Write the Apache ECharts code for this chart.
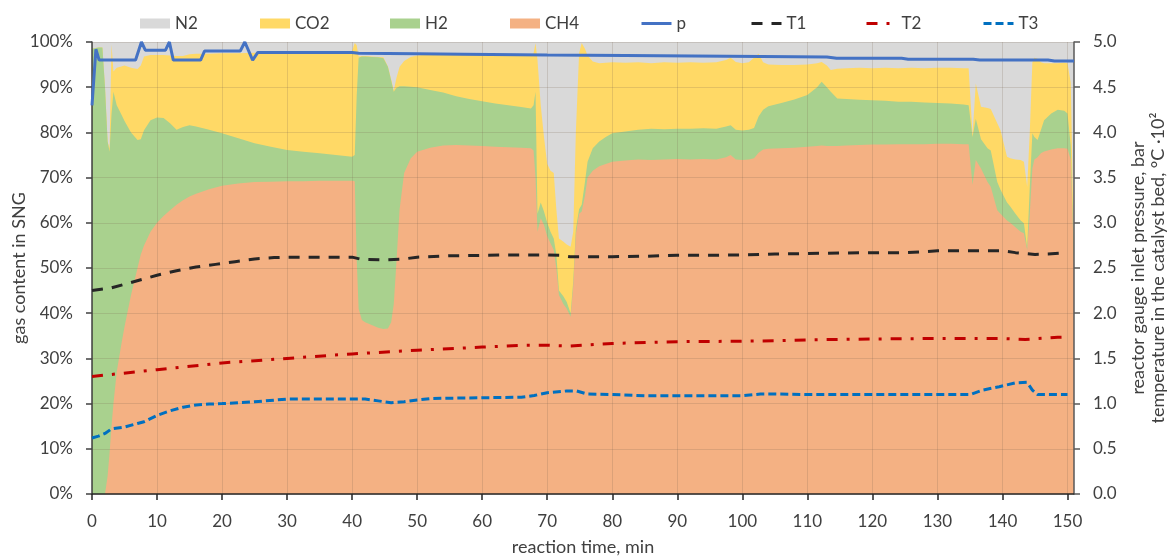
<!DOCTYPE html>
<html>
<head>
<meta charset="utf-8">
<script src="https://cdn.jsdelivr.net/npm/echarts@6/dist/echarts.min.js"></script>
<style>
  html, body { margin: 0; padding: 0; background: #fff; }
  #chart { width: 1170px; height: 556px; }
</style>
</head>
<body>
<div id="chart"></div>
<script>
// Gas composition of the SNG over reaction time (vol. %), one value per gas per time point
const timeMin = [0, 1.0, 1.6, 2.0, 2.4, 2.7, 3.0, 3.3, 3.8, 4.5, 5.0, 6.0, 7.0, 7.5, 8.0, 9.0, 10, 11, 12, 13, 14, 15, 16, 18, 20, 22.5, 25, 27.5, 30, 32.5, 35, 37.5, 40, 40.4, 40.7, 41.0, 41.5, 42, 43, 44, 44.8, 45.5, 46.0, 46.4, 46.8, 47.3, 48, 49, 50, 52, 54, 56, 58, 60, 62, 64, 66, 67.5, 67.9, 68.2, 68.5, 69.0, 69.5, 70.0, 70.5, 71.0, 71.4, 71.8, 72.5, 73.0, 73.6, 74.0, 74.4, 74.9, 75.3, 75.8, 76.2, 77.0, 78.0, 79.0, 80, 82, 84, 86, 88, 90, 92, 94, 96, 97.5, 98.2, 99, 100, 101, 101.8, 102.5, 103.2, 104, 106, 108, 110, 111.5, 112.2, 113, 113.6, 114.6, 116, 118, 120, 122, 124, 126, 128, 130, 132, 134, 134.8, 135.4, 135.9, 136.7, 137.7, 138.2, 139.2, 139.7, 140.7, 141.2, 142, 142.8, 143.3, 143.8, 144.2, 144.6, 144.9, 145.4, 145.9, 146.4, 147.5, 148.5, 149.5, 150, 150.5, 151];
const ch4 = [0, 0, 0, 0, 4, 9, 15, 20, 27, 33, 37, 44, 50, 53, 55, 58, 60, 61.5, 62.8, 64, 65, 65.8, 66.4, 67.4, 68.2, 68.7, 69.0, 69.1, 69.2, 69.2, 69.3, 69.3, 69.3, 69.2, 52, 41, 38.5, 38, 37.4, 36.8, 36.5, 36.6, 38, 42, 51, 63, 71, 74.2, 75.7, 76.6, 77.1, 77.2, 77.1, 77.0, 76.8, 76.7, 76.6, 76.5, 76, 70, 58, 61, 59.5, 57, 55.5, 54, 50, 44, 42, 41, 39.2, 46, 57.5, 62, 62.5, 66, 70, 71.5, 72.5, 73, 73.5, 73.8, 74.0, 73.9, 74.0, 74.1, 74.0, 74.1, 74.0, 74.5, 75.0, 74.0, 73.9, 74.0, 74.3, 75.5, 76.2, 76.4, 76.5, 76.6, 76.8, 77.0, 77.1, 77.0, 77.0, 77.0, 77.1, 77.2, 77.3, 77.3, 77.4, 77.4, 77.4, 77.5, 77.5, 77.4, 77.4, 68.4, 73.9, 72, 69, 68, 62.8, 62, 60.5, 60, 59, 58, 57.7, 54, 62, 72, 74, 74.5, 75.4, 75.8, 76.2, 76.5, 76.5, 76.4, 74, 51];
const h2 = [98.5, 98.8, 98.8, 90, 74, 66.7, 69, 69, 59, 51, 45.5, 36, 28.3, 25.5, 25.5, 24.7, 23.3, 21.7, 19.2, 16.6, 16.2, 15.8, 14.9, 13.2, 11.6, 10.0, 8.6, 7.7, 6.9, 6.5, 6.1, 5.7, 5.3, 5.8, 36, 55.5, 58.3, 58.8, 59.3, 59.8, 59.9, 57.9, 53.5, 47, 38.8, 27.2, 19.2, 15.9, 14.3, 12.8, 11.7, 10.8, 10.3, 9.9, 9.6, 9.3, 9.0, 8.8, 10, 19, 4, 3.5, 3, 3, 2.5, 2.5, 3, 1, 1.7, 1.5, 0.8, 1, 1, 1, 1.5, 3, 3.5, 5, 5.5, 6, 6.3, 6.4, 6.6, 6.9, 6.7, 6.7, 6.8, 6.8, 6.8, 6.8, 6.6, 6.6, 6.5, 6.6, 6.7, 8.0, 8.8, 9.4, 10.0, 10.7, 11.5, 13.0, 14.1, 13.0, 12.0, 10.5, 10.3, 10.0, 9.8, 9.7, 9.4, 9.4, 9.2, 9.0, 8.9, 8.8, 8.6, 10.6, 9.1, 6.5, 7.5, 8, 6.2, 5.3, 4, 3.6, 3, 2.5, 2.2, 0.5, 6, 7.8, 5, 3.8, 5.1, 6.9, 8, 8.5, 8.3, 7.8, 3, 0.5];
const co2 = [0, 0, 0, 0, 0, 0.8, 15.5, 4.5, 8.3, 10.6, 12.3, 14.3, 15.7, 16.3, 16.3, 14.4, 13.8, 13.9, 15.0, 16.3, 15.7, 15.7, 16.1, 16.8, 17.7, 18.8, 20.0, 20.8, 21.6, 22.0, 22.4, 22.9, 23.4, 24.8, 11.3, 0.3, 0.1, 0.1, 0.1, 0.1, 0.2, 0.1, 0.2, 0.2, 2.2, 4.3, 5.6, 6.6, 7.0, 7.9, 8.6, 9.5, 10.1, 10.6, 11.0, 11.3, 11.6, 11.9, 11.5, 10.7, 34, 21.5, 16.5, 13, 13.5, 14.5, 10, 11.5, 12.1, 12.7, 14.7, 11, 21.5, 34.5, 35.8, 29.5, 23.5, 19.2, 17.3, 16.4, 15.7, 15.2, 14.9, 14.5, 14.8, 14.6, 14.7, 14.5, 14.7, 14.7, 14.9, 15.0, 14.9, 14.9, 15.5, 13.9, 10.5, 9.2, 8.4, 7.6, 6.7, 5.3, 4.4, 4.8, 4.8, 6.6, 6.8, 7.1, 7.1, 7.3, 7.4, 7.5, 7.6, 7.8, 7.9, 8.0, 8.2, 0.5, 7.8, 7.2, 8.9, 9.2, 13, 13.2, 10.1, 10.7, 12, 13.4, 13.6, 13.5, 12, 15.7, 17.5, 18, 15, 12.6, 11.1, 10.3, 10.6, 11.1, 14, 0.5];
const n2 = [1.5, 1.2, 1.2, 10, 22, 23.5, 0.5, 6.5, 5.7, 5.4, 5.2, 5.7, 6, 5.2, 3.2, 2.9, 2.9, 2.9, 3.0, 3.1, 3.1, 2.7, 2.6, 2.6, 2.5, 2.5, 2.4, 2.4, 2.3, 2.3, 2.2, 2.1, 2.0, 0.2, 0.7, 3.2, 3.1, 3.1, 3.2, 3.3, 3.4, 5.4, 8.3, 10.8, 8.0, 5.5, 4.2, 3.3, 3.0, 2.7, 2.6, 2.5, 2.5, 2.5, 2.6, 2.7, 2.8, 2.8, 2.5, 0.3, 4, 14, 21, 27, 28.5, 29, 37, 43.5, 44.2, 44.8, 45.3, 42, 20, 2.5, 0.2, 1.5, 3, 4.3, 4.7, 4.6, 4.5, 4.6, 4.5, 4.7, 4.5, 4.6, 4.5, 4.6, 4.5, 4.0, 3.5, 4.4, 4.7, 4.5, 3.5, 2.6, 4.5, 5.0, 5.1, 5.1, 5.0, 4.7, 4.4, 5.2, 6.2, 5.9, 5.8, 5.7, 5.8, 5.7, 5.8, 5.7, 5.8, 5.7, 5.7, 5.8, 5.8, 20.5, 9.2, 14.3, 14.6, 14.8, 18, 19.5, 25.4, 25.7, 26, 26.1, 26.5, 32, 20, 4.5, 3.5, 3.7, 4.5, 4.7, 4.7, 4.7, 4.6, 4.7, 9, 48];

// Reactor gauge inlet pressure, bar
const pTime = [0, 0.6, 1.1, 6.7, 7.6, 8.2, 11.3, 11.9, 12.5, 16.7, 17.3, 22.8, 23.5, 24.7, 25.5, 40, 41, 50, 57, 70, 82, 103, 113, 114.5, 124.5, 125.5, 135.5, 136.5, 147, 148, 151];
const pBar = [4.30, 4.92, 4.80, 4.80, 5.00, 4.91, 4.91, 5.00, 4.80, 4.80, 4.90, 4.90, 5.00, 4.80, 4.885, 4.885, 4.875, 4.87, 4.865, 4.855, 4.85, 4.84, 4.835, 4.82, 4.82, 4.81, 4.81, 4.80, 4.80, 4.79, 4.79];

// Catalyst bed temperatures, °C·10²
const t1Time = [0, 3, 5, 8, 10, 13, 16, 19, 22, 25, 28, 30, 35, 40, 41.5, 45, 48, 50, 55, 60, 65, 70, 72, 73.5, 76, 80, 85, 90, 95, 100, 105, 110, 115, 120, 125, 128, 130, 135, 140, 142, 145, 147, 149.2];
const t1 = [2.25, 2.28, 2.32, 2.38, 2.42, 2.47, 2.51, 2.54, 2.57, 2.60, 2.615, 2.62, 2.62, 2.62, 2.595, 2.59, 2.60, 2.62, 2.635, 2.64, 2.645, 2.645, 2.64, 2.625, 2.625, 2.625, 2.63, 2.64, 2.64, 2.645, 2.655, 2.66, 2.665, 2.67, 2.67, 2.68, 2.69, 2.69, 2.69, 2.67, 2.65, 2.655, 2.665];
const t2Time = [0, 10, 20, 30, 40, 50, 60, 66, 70, 73.6, 80, 90, 100, 105, 110, 120, 130, 140, 143.5, 148.5, 150];
const t2 = [1.30, 1.375, 1.45, 1.50, 1.55, 1.59, 1.625, 1.645, 1.645, 1.637, 1.665, 1.685, 1.69, 1.695, 1.705, 1.715, 1.72, 1.72, 1.71, 1.733, 1.735];
const t3Time = [0, 1, 2, 3, 5, 7, 8, 10, 12, 14, 16, 18, 20, 25, 30, 35, 40, 42, 44, 46, 48, 50, 52, 55, 60, 66, 68, 70, 73, 74.5, 76.2, 80, 85, 90, 95, 100, 102.8, 105, 110, 120, 130, 135, 137, 139.5, 142, 143.8, 144.6, 145.4, 150];
const t3 = [0.62, 0.64, 0.67, 0.72, 0.74, 0.78, 0.80, 0.87, 0.92, 0.96, 0.985, 0.995, 1.0, 1.02, 1.05, 1.05, 1.05, 1.05, 1.03, 1.01, 1.02, 1.04, 1.055, 1.06, 1.065, 1.07, 1.09, 1.12, 1.14, 1.14, 1.105, 1.10, 1.087, 1.087, 1.087, 1.087, 1.106, 1.106, 1.10, 1.10, 1.10, 1.10, 1.15, 1.187, 1.23, 1.235, 1.15, 1.10, 1.10];

// Axis ticks
const timeTicks = [0, 10, 20, 30, 40, 50, 60, 70, 80, 90, 100, 110, 120, 130, 140, 150];

const FONT = 'Lato, "Open Sans", sans-serif';
const TEXT = '#404040';
const GRID_LINE = 'rgba(120,100,80,0.2)';

const pairs = (xs, ys) => xs.map((x, i) => [x, ys[i]]);

// Stack the gases bottom-up (CH4, H2, CO2, N2); each layer is drawn as an area
// from zero up to its running total, upper layers first so lower ones cover them.
const gasLayers = [
  { name: 'CH4', values: ch4, color: '#F4B183' },
  { name: 'H2', values: h2, color: '#A9D18E' },
  { name: 'CO2', values: co2, color: '#FFD966' },
  { name: 'N2', values: n2, color: '#D9D9D9' }
];
const running = timeMin.map(() => 0);
gasLayers.forEach(layer => {
  layer.top = layer.values.map((v, i) => (running[i] += v));
});

function gasSeries(layer, z) {
  return {
    name: layer.name, type: 'line', data: pairs(timeMin, layer.top),
    symbol: 'none', showSymbol: false, color: layer.color,
    lineStyle: { width: 0 }, areaStyle: { color: layer.color, opacity: 1, origin: 'start' },
    z, silent: true
  };
}
function lineSeries(name, xs, ys, color, type, width) {
  return {
    name, type: 'line', yAxisIndex: 1, data: pairs(xs, ys),
    symbol: 'none', showSymbol: false, color,
    lineStyle: { color, width, type, cap: 'butt' }, z: 5, silent: true
  };
}

const legendItems = [
  { name: 'N2', left: 140, icon: 'rect' },
  { name: 'CO2', left: 260, icon: 'rect' },
  { name: 'H2', left: 390, icon: 'rect' },
  { name: 'CH4', left: 510, icon: 'rect' },
  { name: 'p', left: 640 },
  { name: 'T1', left: 750 },
  { name: 'T2', left: 865 },
  { name: 'T3', left: 982 }
];

const chart = echarts.init(document.getElementById('chart'), null, { renderer: 'canvas' });
chart.setOption({
  animation: false,
  backgroundColor: '#fff',
  textStyle: { fontFamily: FONT },
  legend: legendItems.map(it => ({
    left: it.left, top: 15, padding: 0,
    itemWidth: 30, itemHeight: it.icon ? 10 : 14,
    itemStyle: it.icon ? {} : { opacity: 0 },
    lineStyle: it.icon ? {} : { width: 3 },
    textStyle: { fontFamily: FONT, fontSize: 17, color: TEXT },
    data: [it.icon ? { name: it.name, icon: it.icon } : { name: it.name }],
    selectedMode: false
  })),
  grid: { left: 92, right: 96, top: 42, bottom: 62, containLabel: false, outerBoundsMode: 'none' },
  xAxis: {
    type: 'value', min: 0, max: 151, z: 3,
    name: 'reaction time, min', nameLocation: 'middle', nameGap: 44, nameMoveOverlap: false,
    nameTextStyle: { fontFamily: FONT, fontSize: 18, color: TEXT },
    axisLine: { show: true, lineStyle: { color: '#262626', width: 1.5 } },
    axisTick: { show: true, length: 6, customValues: timeTicks, lineStyle: { color: '#262626', width: 1.5 } },
    axisLabel: { customValues: timeTicks, fontFamily: FONT, fontSize: 17, color: TEXT, margin: 19 },
    splitLine: { show: true, lineStyle: { color: GRID_LINE, width: 1 } }
  },
  yAxis: [
    {
      type: 'value', min: 0, max: 100, interval: 10, z: 3,
      name: 'gas content in SNG', nameLocation: 'middle', nameGap: 64, nameRotate: 90, nameMoveOverlap: false,
      nameTextStyle: { fontFamily: FONT, fontSize: 18, color: TEXT },
      axisLine: { show: true, lineStyle: { color: '#404040', width: 1.5 } },
      axisTick: { show: true, length: 6, lineStyle: { color: '#404040', width: 1.5 } },
      axisLabel: { formatter: '{value}%', fontFamily: FONT, fontSize: 17, color: TEXT, margin: 19 },
      splitLine: { show: true, lineStyle: { color: GRID_LINE, width: 1 } }
    },
    {
      type: 'value', min: 0, max: 5, interval: 0.5, position: 'right', z: 3,
      name: 'reactor gauge inlet pressure, bar\ntemperature in the catalyst bed, °C ·10²',
      nameLocation: 'middle', nameGap: 54, nameRotate: 90, nameMoveOverlap: false,
      nameTextStyle: { fontFamily: FONT, fontSize: 18, color: TEXT, lineHeight: 20, align: 'center' },
      axisLine: { show: true, lineStyle: { color: '#595959', width: 1.5 } },
      axisTick: { show: true, length: 6, lineStyle: { color: '#595959', width: 1.5 } },
      axisLabel: { formatter: v => v.toFixed(1), fontFamily: FONT, fontSize: 17, color: TEXT, margin: 19 },
      splitLine: { show: false }
    }
  ],
  series: [
    gasSeries(gasLayers[3], 1),
    gasSeries(gasLayers[2], 1.1),
    gasSeries(gasLayers[1], 1.2),
    gasSeries(gasLayers[0], 1.3),
    lineSeries('p', pTime, pBar, '#4472C4', 'solid', 3),
    lineSeries('T1', t1Time, t1, '#262626', [11, 9], 3),
    lineSeries('T2', t2Time, t2, '#C00000', [11, 9, 3, 9], 3),
    lineSeries('T3', t3Time, t3, '#0070C0', [8, 4], 3)
  ]
});
</script>
</body>
</html>
